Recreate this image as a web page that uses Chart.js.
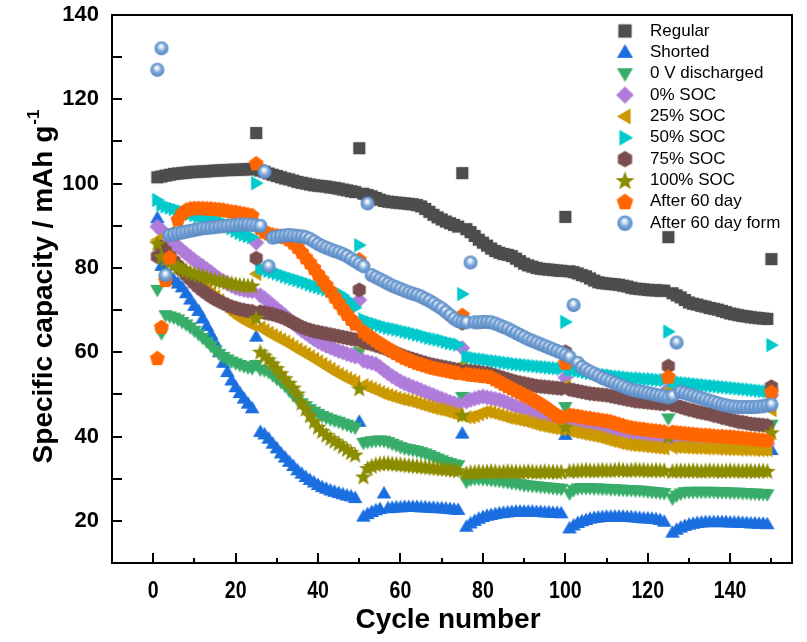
<!DOCTYPE html>
<html>
<head>
<meta charset="utf-8">
<title>Specific capacity vs cycle number</title>
<script src="https://cdn.jsdelivr.net/npm/chart.js@4.4.0/dist/chart.umd.min.js"></script>
<style>
html, body { margin: 0; padding: 0; background: #ffffff; }
#wrap { width: 807px; height: 642px; }
</style>
</head>
<body>
<div id="wrap"><canvas id="capChart" width="807" height="642"></canvas></div>
<script>
// series names, in legend order
var seriesNames = ['Regular', 'Shorted', '0 V discharged', '0% SOC', '25% SOC', '50% SOC',
    '75% SOC', '100% SOC', 'After 60 day', 'After 60 day form'];

// capacity per cycle (cycle 1 .. 150), mAh/g
var regular = [101.5,101.7,101.9,102.1,102.3,102.4,102.5,102.6,102.7,102.8,
    102.8,102.9,102.9,103.0,103.1,103.1,103.2,103.2,103.3,103.3,
    103.3,103.4,103.4,103.4,112.0,103.1,102.8,102.4,102.1,101.8,
    101.5,101.2,101.0,100.7,100.4,100.2,100.0,99.8,99.6,99.5,
    99.4,99.3,99.1,99.0,98.8,98.6,98.4,98.2,98.0,108.4,
    97.6,97.3,97.0,96.6,96.2,95.9,95.7,95.6,95.5,95.4,
    95.3,95.2,95.1,94.9,94.6,94.0,93.3,92.6,92.0,91.5,
    91.0,90.6,90.2,89.8,102.5,89.2,88.5,87.6,86.7,86.0,
    85.3,84.6,84.0,83.6,83.3,83.1,82.8,82.2,81.6,81.0,
    80.6,80.3,80.0,79.8,79.7,79.6,79.5,79.4,79.3,92.1,
    79.2,79.0,78.7,78.3,78.0,77.5,77.0,76.6,76.4,76.3,
    76.2,76.1,76.0,75.8,75.6,75.3,75.1,75.0,74.9,74.8,
    74.7,74.7,74.6,74.6,87.3,74.0,73.5,73.0,72.4,71.8,
    71.5,71.3,71.0,70.8,70.5,70.3,70.1,69.8,69.5,69.2,
    69.0,68.8,68.6,68.5,68.3,68.2,68.1,68.0,67.9,82.1];

var shorted = [91.8,80.5,79.2,78.2,77.1,76.3,75.4,74.0,72.5,71.0,
    69.8,68.0,66.2,64.3,62.3,60.0,57.5,55.3,53.3,51.7,
    50.3,49.0,47.8,46.7,63.7,41.1,40.5,39.5,38.3,37.2,
    36.0,35.0,34.0,33.0,32.0,31.2,30.4,29.7,29.1,28.5,
    28.0,27.6,27.2,26.9,26.6,26.3,26.0,25.8,25.4,43.5,
    21.0,21.6,22.1,22.5,22.8,26.5,23.0,23.1,23.2,23.2,
    23.3,23.3,23.3,23.3,23.2,23.2,23.1,23.1,23.0,23.0,
    22.9,22.8,22.7,22.6,40.7,18.6,19.4,20.0,20.5,20.9,
    21.2,21.4,21.6,21.8,21.9,22.0,22.1,22.2,22.2,22.2,
    22.2,22.2,22.1,22.1,22.0,22.0,21.9,21.9,21.8,40.4,
    18.2,18.9,19.5,19.9,20.2,20.5,20.7,20.8,20.9,21.0,
    21.0,21.0,21.0,21.0,20.9,20.9,20.8,20.7,20.6,20.6,
    20.5,20.4,20.2,19.8,39.0,17.2,17.9,18.4,18.8,19.1,
    19.3,19.5,19.6,19.7,19.7,19.7,19.7,19.7,19.7,19.6,
    19.6,19.6,19.5,19.5,19.4,19.4,19.3,19.3,19.2,36.8];

var zeroVolt = [74.8,64.5,68.8,68.5,68.2,67.8,67.2,66.6,65.9,65.1,
    64.3,63.4,62.5,61.5,60.5,59.6,58.9,58.3,57.8,57.4,
    57.0,56.7,56.4,56.2,57.0,55.9,55.7,55.3,54.5,53.7,
    52.9,52.0,50.9,49.8,48.8,47.9,47.2,46.5,45.9,45.4,
    44.9,44.5,44.1,43.8,43.5,43.1,42.8,42.4,42.1,60.0,
    38.5,38.7,38.9,39.0,39.1,39.0,38.7,38.3,37.9,37.5,
    37.2,37.0,36.8,36.6,36.3,36.0,35.6,35.2,34.8,34.4,
    34.0,33.7,33.4,33.2,49.4,29.3,29.8,30.0,30.0,29.9,
    29.8,29.7,29.6,29.5,29.3,29.2,29.0,28.9,28.7,28.5,
    28.4,28.3,28.2,28.1,28.0,27.9,27.8,27.7,27.6,47.0,
    26.5,27.3,27.7,27.8,27.8,27.8,27.7,27.7,27.6,27.6,
    27.5,27.5,27.4,27.4,27.3,27.3,27.2,27.2,27.1,27.0,
    26.9,26.8,26.7,26.6,44.3,25.3,26.0,26.5,26.8,26.9,
    26.9,26.9,26.9,26.9,26.9,26.9,26.8,26.8,26.8,26.7,
    26.7,26.7,26.6,26.6,26.5,26.5,26.4,26.4,26.3,42.8];

var soc0 = [89.8,89.0,88.0,87.0,86.0,85.0,84.2,83.4,82.6,81.8,
    81.1,80.4,79.7,79.0,78.2,77.5,76.9,76.3,75.8,75.3,
    75.0,74.8,74.6,74.5,86.0,73.5,72.8,72.0,71.1,70.3,
    69.5,68.7,67.8,66.9,66.0,65.2,64.5,63.8,63.1,62.5,
    62.0,61.5,61.1,60.7,60.3,60.0,59.6,59.3,59.0,72.4,
    58.0,57.7,57.5,57.2,56.5,55.7,55.0,54.3,53.7,53.1,
    52.6,52.2,51.8,51.4,51.0,50.6,50.2,49.8,49.4,49.0,
    48.6,48.2,47.9,47.6,61.0,48.3,48.7,49.0,49.3,49.5,
    49.3,49.1,48.9,48.7,48.4,48.0,47.6,47.2,46.9,46.6,
    46.2,45.8,45.5,45.2,45.0,44.8,44.6,44.5,44.4,54.0,
    44.0,43.8,43.5,43.2,42.9,42.6,42.3,42.0,41.7,41.4,
    41.1,40.9,40.6,40.4,40.2,40.0,39.9,39.8,39.7,39.6,
    39.5,39.4,39.4,39.3,51.4,39.2,39.2,39.2,39.2,39.2,
    39.1,39.1,39.1,39.0,39.0,38.9,38.9,38.8,38.8,38.8,
    38.7,38.7,38.6,38.6,38.5,38.5,38.4,38.4,38.3,49.8];

var soc25 = [86.6,84.5,83.3,82.2,81.2,80.3,79.5,78.8,78.0,77.2,
    76.4,75.6,74.8,74.0,73.2,72.3,71.4,70.5,69.6,68.8,
    68.1,67.5,67.0,66.5,78.6,65.8,65.2,64.6,64.0,63.5,
    63.0,62.5,61.9,61.3,60.7,60.1,59.6,59.0,58.4,57.8,
    57.2,56.6,56.0,55.4,54.8,54.3,53.8,53.3,52.9,62.0,
    52.2,51.8,51.4,51.0,50.5,50.1,49.8,49.5,49.2,48.9,
    48.7,48.5,48.2,47.9,47.6,47.3,47.0,46.7,46.5,46.3,
    46.0,45.7,45.4,45.1,57.0,44.6,44.6,44.9,45.3,45.7,
    45.9,45.7,45.4,45.1,44.8,44.5,44.3,44.1,43.9,43.7,
    43.4,43.1,42.8,42.6,42.4,42.2,42.0,41.9,41.7,52.0,
    41.3,41.1,40.9,40.7,40.5,40.3,40.1,39.9,39.6,39.3,
    39.0,38.8,38.5,38.3,38.1,38.0,37.9,37.8,37.7,37.6,
    37.5,37.4,37.3,37.2,51.0,37.4,37.5,37.5,37.4,37.4,
    37.3,37.3,37.3,37.2,37.2,37.2,37.1,37.1,37.0,37.0,
    37.0,36.9,36.9,36.9,36.9,36.8,36.8,36.8,36.8,46.3];

var soc50 = [96.1,95.0,94.6,94.3,94.0,93.7,93.4,93.1,92.8,92.5,
    92.2,92.0,91.8,91.6,91.4,91.2,90.7,90.1,89.4,88.8,
    88.3,87.9,87.6,87.3,100.1,80.0,79.6,79.3,79.0,78.7,
    78.4,78.0,77.7,77.4,77.1,76.8,76.5,76.1,75.8,75.5,
    75.2,74.9,74.6,74.3,74.0,73.5,72.6,71.6,70.6,85.4,
    67.8,67.3,67.0,66.7,66.4,66.1,65.8,65.6,65.4,65.2,
    64.9,64.7,64.5,64.2,64.0,63.7,63.4,63.2,63.0,62.8,
    62.5,62.2,62.0,61.8,73.8,59.0,58.8,58.6,58.4,58.3,
    58.2,58.0,57.9,57.8,57.6,57.5,57.4,57.2,57.1,57.0,
    56.9,56.8,56.7,56.6,56.5,56.4,56.3,56.2,56.1,67.2,
    55.9,55.8,55.6,55.5,55.3,55.1,55.0,54.8,54.7,54.6,
    54.5,54.3,54.2,54.1,54.0,53.9,53.8,53.8,53.7,53.6,
    53.6,53.5,53.4,53.4,64.9,53.0,52.9,52.8,52.7,52.6,
    52.5,52.4,52.3,52.2,52.1,52.0,51.9,51.8,51.7,51.6,
    51.5,51.4,51.3,51.2,51.1,51.0,50.9,50.8,50.7,61.7];

var soc75 = [82.7,85.0,84.0,82.8,81.6,80.5,79.4,78.3,77.3,76.3,
    75.4,74.6,73.9,73.2,72.6,72.1,71.6,71.2,70.8,70.5,
    70.2,70.0,69.8,69.7,82.3,69.6,69.4,69.2,69.0,68.7,
    68.4,68.0,67.5,67.0,66.5,66.0,65.6,65.3,65.0,64.8,
    64.6,64.4,64.2,64.0,63.8,63.6,63.4,63.2,63.0,74.8,
    62.5,62.2,61.9,61.6,61.3,61.0,60.6,60.2,59.8,59.4,
    59.0,58.7,58.4,58.1,57.8,57.5,57.2,57.0,56.8,56.6,
    56.4,56.2,56.0,55.8,66.9,55.6,55.5,55.4,55.3,55.1,
    55.0,54.8,54.5,54.2,53.9,53.6,53.3,53.0,52.8,52.6,
    52.4,52.2,52.0,51.9,51.8,51.7,51.6,51.5,51.4,60.1,
    51.2,51.0,50.8,50.6,50.4,50.2,50.1,50.0,49.9,49.8,
    49.6,49.4,49.2,49.0,48.8,48.6,48.4,48.3,48.2,48.1,
    48.0,47.9,47.8,47.7,56.7,47.5,47.3,47.0,46.7,46.4,
    46.2,45.9,45.7,45.5,45.3,45.0,44.8,44.5,44.3,44.0,
    43.8,43.5,43.4,43.2,43.0,42.9,42.8,42.7,42.6,51.8];

var soc100 = [85.8,82.7,82.0,81.3,80.7,80.2,79.8,79.4,79.0,78.7,
    78.4,78.1,77.8,77.5,77.2,77.0,76.8,76.6,76.4,76.2,
    76.0,75.9,75.8,75.8,68.2,60.1,59.2,58.3,57.3,56.2,
    55.0,53.8,52.7,51.6,50.2,48.0,46.6,45.0,43.6,42.3,
    41.3,40.4,39.6,39.0,38.4,37.7,37.0,36.3,35.7,51.4,
    30.5,32.5,33.0,33.4,33.6,33.7,33.7,33.6,33.5,33.4,
    33.3,33.2,33.1,33.0,32.9,32.8,32.7,32.6,32.5,32.4,
    32.3,32.2,32.1,32.0,45.1,31.3,31.5,31.6,31.7,31.6,
    31.7,31.8,31.7,31.6,31.7,31.8,31.7,31.7,31.6,31.7,
    31.8,31.7,31.6,31.7,31.8,31.7,31.7,31.6,31.7,42.3,
    31.8,31.9,31.9,32.0,32.1,32.0,31.9,32.0,32.1,32.0,
    32.0,32.1,32.2,32.1,32.0,32.1,32.2,32.1,32.1,32.0,
    32.0,32.1,32.0,32.0,40.0,31.8,31.9,32.0,31.9,31.9,
    32.0,31.9,31.8,31.9,32.0,31.9,31.9,31.8,31.9,32.0,
    31.9,31.9,31.8,31.9,31.9,31.8,31.9,31.9,31.8,41.0];

var after60 = [58.6,66.0,77.1,82.5,88.2,91.5,93.0,93.8,94.1,94.2,
    94.2,94.2,94.1,94.1,94.0,93.9,93.8,93.6,93.4,93.3,
    93.1,92.9,92.7,92.5,104.8,89.5,88.6,88.2,87.9,87.7,
    87.5,87.3,86.8,86.0,85.0,83.8,82.5,81.3,80.0,78.6,
    77.3,76.0,74.6,73.2,71.8,70.4,69.1,67.9,66.8,82.0,
    65.0,64.2,63.5,62.8,62.2,61.6,61.0,60.4,59.8,59.2,
    58.7,58.3,57.9,57.5,57.2,56.9,56.6,56.3,56.1,55.9,
    55.7,55.5,55.3,55.1,68.8,54.9,54.7,54.6,54.5,54.4,
    54.3,54.1,53.6,53.1,52.5,52.0,51.5,51.0,50.5,50.0,
    49.5,49.0,48.4,47.8,47.2,46.5,45.8,45.1,44.7,57.5,
    45.2,45.0,44.9,44.7,44.5,44.4,44.2,44.1,43.9,43.8,
    43.6,43.3,43.0,42.7,42.4,42.2,42.0,41.9,41.8,41.6,
    41.5,41.4,41.3,41.2,54.2,41.1,41.0,40.9,40.8,40.7,
    40.6,40.5,40.4,40.4,40.3,40.2,40.1,40.1,40.0,40.0,
    39.9,39.8,39.7,39.6,39.5,39.4,39.3,39.2,39.1,50.6];

var after60form = [127.0,132.1,78.3,87.8,88.0,88.2,88.4,88.6,88.8,89.0,
    89.2,89.4,89.5,89.6,89.7,89.8,89.9,90.0,90.1,90.2,
    90.3,90.3,90.3,90.2,90.1,90.0,102.8,80.4,87.2,87.4,
    87.6,87.7,87.8,87.7,87.6,87.5,87.3,86.9,86.3,85.7,
    85.2,84.8,84.4,84.0,83.7,83.3,82.8,82.2,81.6,81.0,
    80.4,95.3,78.3,77.8,77.3,76.8,76.3,75.8,75.4,75.0,
    74.6,74.2,73.9,73.6,73.2,72.7,72.2,71.6,71.0,70.4,
    69.6,68.8,68.0,67.4,67.2,67.1,81.3,67.1,67.1,67.2,
    67.2,67.1,66.8,66.4,66.0,65.6,65.1,64.6,64.1,63.6,
    63.1,62.7,62.3,61.9,61.5,61.1,60.7,60.3,59.9,59.4,
    58.9,71.2,57.5,56.5,55.9,55.4,54.9,54.4,53.9,53.5,
    53.1,52.7,52.3,51.9,51.5,51.1,50.9,50.7,50.5,50.3,
    50.1,49.9,49.7,49.5,49.3,49.6,62.3,50.6,50.3,50.0,
    49.7,49.4,49.1,48.8,48.5,48.2,47.9,47.6,47.4,47.2,
    47.1,47.0,47.0,47.0,47.0,47.0,47.1,47.2,47.4,47.6];

var xTicks = [0, 20, 40, 60, 80, 100, 120, 140];
var xMinorTicks = [10, 30, 50, 70, 90, 110, 130, 150];
var yTicks = [20, 40, 60, 80, 100, 120, 140];
var yMinorTicks = [30, 50, 70, 90, 110, 130];

document.addEventListener("DOMContentLoaded", function () {
    var allSeries = [regular, shorted, zeroVolt, soc0, soc25, soc50, soc75, soc100, after60, after60form];
    var colors = ['#4d4d4d', '#1a6ee0', '#38ad6a', '#b07cdc', '#cc9900', '#00c9cc',
        '#7a4e4e', '#8c8c00', '#ff6600', '#6a9fd6'];
    var shapes = ['square', 'up', 'down', 'diamond', 'left', 'right', 'hexagon', 'star', 'pentagon', 'sphere'];

    function polygon(g, cx, cy, r, n, rot) {
        g.beginPath();
        for (var k = 0; k < n; k++) {
            var a = rot + k * 2 * Math.PI / n;
            var px = cx + r * Math.cos(a), py = cy + r * Math.sin(a);
            if (k === 0) g.moveTo(px, py); else g.lineTo(px, py);
        }
        g.closePath();
        g.fill();
    }

    // build a marker image for Chart.js pointStyle; f scales it
    function makeMarker(shape, color, f) {
        var s = Math.ceil(24 * f), m = s / 2;
        var cv = document.createElement('canvas');
        cv.width = s; cv.height = s;
        var g = cv.getContext('2d');
        g.fillStyle = color;
        var deg = Math.PI / 180;
        if (shape === 'square') {
            var h = 6.1 * f;
            g.fillRect(m - h, m - h, 2 * h, 2 * h);
        } else if (shape === 'up') {
            polygon(g, m, m + 0.9 * f, 8.4 * f, 3, -90 * deg);
        } else if (shape === 'down') {
            polygon(g, m, m - 0.9 * f, 8.4 * f, 3, 90 * deg);
        } else if (shape === 'left') {
            polygon(g, m + 0.9 * f, m, 8.4 * f, 3, 180 * deg);
        } else if (shape === 'right') {
            polygon(g, m - 0.9 * f, m, 8.4 * f, 3, 0);
        } else if (shape === 'diamond') {
            polygon(g, m, m, 8 * f, 4, -90 * deg);
        } else if (shape === 'hexagon') {
            polygon(g, m, m, 7.5 * f, 6, -90 * deg);
        } else if (shape === 'pentagon') {
            polygon(g, m, m + 0.5 * f, 7.9 * f, 5, -90 * deg);
        } else if (shape === 'star') {
            g.beginPath();
            for (var k = 0; k < 10; k++) {
                var r = ((k % 2 === 0) ? 9 : 3.8) * f;
                var a = -90 * deg + k * 36 * deg;
                var px = m + r * Math.cos(a), py = m + 0.7 * f + r * Math.sin(a);
                if (k === 0) g.moveTo(px, py); else g.lineTo(px, py);
            }
            g.closePath();
            g.fill();
        } else if (shape === 'sphere') {
            var rr = 7 * f;
            var grd = g.createRadialGradient(m - 0.5 * f, m - 2.4 * f, 0.3, m, m, rr);
            grd.addColorStop(0, '#ffffff');
            grd.addColorStop(0.22, '#dce8f6');
            grd.addColorStop(0.55, '#7eaadb');
            grd.addColorStop(1, '#5585c0');
            g.fillStyle = grd;
            g.beginPath();
            g.arc(m, m, rr, 0, 2 * Math.PI);
            g.fill();
        }
        return cv;
    }

    var markers = shapes.map(function (sh, i) { return makeMarker(sh, colors[i], 1); });
    var legendMarkers = shapes.map(function (sh, i) { return makeMarker(sh, colors[i], 1.1); });

    var datasets = allSeries.map(function (vals, i) {
        return {
            label: seriesNames[i],
            data: vals.map(function (v, k) { return { x: k + 1, y: v }; }),
            pointStyle: markers[i],
            pointRadius: 6,
            pointHoverRadius: 6,
            showLine: false,
            order: -i
        };
    });

    var fontFam = '"Liberation Sans", Arial, Helvetica, sans-serif';

    var framePlugin = {
        id: 'frame',
        afterDraw: function (chart) {
            var c = chart.ctx, a = chart.chartArea;
            var xs = chart.scales.x, ys = chart.scales.y;
            c.save();
            c.strokeStyle = '#000000';
            c.fillStyle = '#000000';
            c.lineWidth = 2;
            c.strokeRect(a.left, a.top, a.right - a.left, a.bottom - a.top);

            // inward ticks on bottom and left axes
            c.beginPath();
            xTicks.forEach(function (t) {
                var px = Math.round(xs.getPixelForValue(t));
                c.moveTo(px, a.bottom); c.lineTo(px, a.bottom - 10);
            });
            xMinorTicks.forEach(function (t) {
                var px = Math.round(xs.getPixelForValue(t));
                c.moveTo(px, a.bottom); c.lineTo(px, a.bottom - 5);
            });
            yTicks.concat(yMinorTicks).forEach(function (t) {
                var py = Math.round(ys.getPixelForValue(t));
                c.moveTo(a.left, py); c.lineTo(a.left + 10, py);
            });
            c.stroke();

            // tick labels
            c.textBaseline = 'middle';
            c.font = 'bold 22px ' + fontFam;
            c.textAlign = 'right';
            yTicks.forEach(function (t) {
                c.fillText(String(t), 99, ys.getPixelForValue(t));
            });
            c.textAlign = 'center';
            xTicks.forEach(function (t) {
                c.save();
                c.translate(xs.getPixelForValue(t), 592);
                c.scale(0.85, 1);
                c.font = 'bold 23px ' + fontFam;
                c.fillText(String(t), 0, 0);
                c.restore();
            });

            // axis titles
            c.font = 'bold 28px ' + fontFam;
            c.fillText('Cycle number', 448, 620);

            c.save();
            c.translate(44, 287);
            c.rotate(-Math.PI / 2);
            var main = 'Specific capacity / mAh g';
            c.font = 'bold 28px ' + fontFam;
            var w1 = c.measureText(main).width;
            c.font = 'bold 17px ' + fontFam;
            var w2 = c.measureText('-1').width;
            var x0 = -(w1 + w2) / 2;
            c.textAlign = 'left';
            c.font = 'bold 28px ' + fontFam;
            c.fillText(main, x0, 0);
            c.font = 'bold 17px ' + fontFam;
            c.fillText('-1', x0 + w1 + 1, -10);
            c.restore();

            // legend
            c.font = '17px ' + fontFam;
            c.textAlign = 'left';
            seriesNames.forEach(function (name, i) {
                var ry = 31 + i * 21.35;
                var mk = legendMarkers[i];
                c.drawImage(mk, 625 - mk.width / 2, ry - mk.height / 2);
                c.fillText(name, 650, ry);
            });
            c.restore();
        }
    };

    var ctx = document.getElementById('capChart').getContext('2d');
    var capChart = new Chart(ctx, {
        type: 'scatter',
        data: { datasets: datasets },
        options: {
            responsive: false,
            animation: false,
            events: [],
            layout: { padding: { left: 112, right: 15, top: 15, bottom: 79 } },
            plugins: {
                legend: { display: false },
                tooltip: { enabled: false }
            },
            scales: {
                x: { type: 'linear', min: -10, max: 155, display: false },
                y: { type: 'linear', min: 10, max: 140, display: false }
            }
        },
        plugins: [framePlugin]
    });
});
</script>
</body>
</html>
